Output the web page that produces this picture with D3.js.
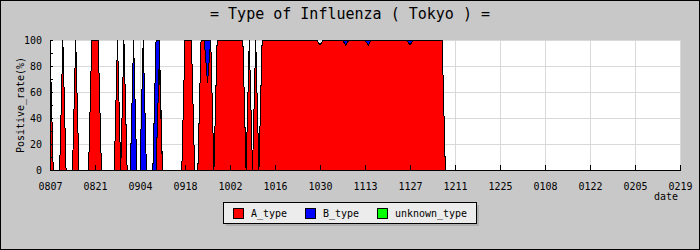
<!DOCTYPE html>
<html>
<head>
<meta charset="utf-8">
<title>Type of Influenza ( Tokyo )</title>
<script src="https://cdn.jsdelivr.net/npm/d3@7"></script>
<style>
    body { margin: 0; background: #c8c8c8; }
    svg { display: block; }
    text { font-family: "DejaVu Sans Mono", "Liberation Mono", monospace; fill: #000; }
</style>
</head>
<body>
<div id="chart"></div>
<script>
// ---- data (daily positive rate %, first day = 0807) ----
const startDay = '20090807';

const typeA = [
    100, 0, 0, 0, 100, 0, 0, 0, 100, 0, 0, 0, 0, 100,
    100, 100, 0, 0, 0, 0, 0, 100, 0, 100, 0, 0, 0, 0,
    0, 0, 0, 0, 0, 0, 85, 0, 0, 0, 0, 0, 0, 0,
    100, 100, 100, 0, 0, 100, 100, 67, 100, 0, 100, 100, 100, 100,
    100, 100, 100, 100, 100, 0, 100, 0, 100, 0, 100, 100, 100, 100,
    100, 100, 100, 100, 100, 100, 100, 100, 100, 100, 100, 100, 100, 100,
    96, 100, 100, 100, 100, 100, 100, 100, 96, 100, 100, 100, 100, 100,
    100, 96, 100, 100, 100, 100, 100, 100, 100, 100, 100, 100, 100, 100,
    96, 100, 100, 100, 100, 100, 100, 100, 100, 100, 100, 0
];

const typeB = [
    0, 0, 0, 0, 0, 0, 0, 0, 0, 0, 0, 0, 0, 0,
    0, 0, 0, 0, 0, 0, 0, 0, 0, 0, 0, 0, 100, 0,
    0, 100, 0, 0, 0, 100, 15, 0, 0, 0, 0, 0, 0, 0,
    0, 0, 0, 0, 0, 0, 0, 33, 0, 0, 0, 0, 0, 0,
    0, 0, 0, 0, 0, 0, 0, 0, 0, 0, 0, 0, 0, 0,
    0, 0, 0, 0, 0, 0, 0, 0, 0, 0, 0, 0, 0, 0,
    0, 0, 0, 0, 0, 0, 0, 0, 4, 0, 0, 0, 0, 0,
    0, 4, 0, 0, 0, 0, 0, 0, 0, 0, 0, 0, 0, 0,
    4, 0, 0, 0, 0, 0, 0, 0, 0, 0, 0, 0
];

const typeUnknown = [
    0, 0, 0, 0, 0, 0, 0, 0, 0, 0, 0, 0, 0, 0,
    0, 0, 0, 0, 0, 0, 0, 0, 0, 0, 0, 0, 0, 0,
    0, 0, 0, 0, 0, 0, 0, 0, 0, 0, 0, 0, 0, 0,
    0, 0, 0, 0, 0, 0, 0, 0, 0, 0, 0, 0, 0, 0,
    0, 0, 0, 0, 0, 0, 0, 0, 0, 0, 0, 0, 0, 0,
    0, 0, 0, 0, 0, 0, 0, 0, 0, 0, 0, 0, 0, 0,
    0, 0, 0, 0, 0, 0, 0, 0, 0, 0, 0, 0, 0, 0,
    0, 0, 0, 0, 0, 0, 0, 0, 0, 0, 0, 0, 0, 0,
    0, 0, 0, 0, 0, 0, 0, 0, 0, 0, 0, 0
];

const xTickLabels = ['0807', '0821', '0904', '0918', '1002', '1016', '1030',
    '1113', '1127', '1211', '1225', '0108', '0122', '0205', '0219'];
const yTickValues = [0, 20, 40, 60, 80, 100];

const seriesKeys = ['A_type', 'B_type', 'unknown_type'];
const seriesColors = ['#ff0000', '#0000ff', '#00ff00'];

// ---- layout ----
const WIDTH = 700;
const HEIGHT = 250;
const PLOT_LEFT = 50;
const PLOT_RIGHT = 680;
const PLOT_TOP = 40;
const PLOT_BOTTOM = 170;
const CHAR_W = 6;          // width of one char in the small bitmap-like font
const GRID_COLOR = '#d9d9d9';

const parseDay = d3.utcParse('%Y%m%d');
const start = parseDay(startDay);

// tick label "MMDD" -> date (autumn in start year, winter in next one)
function labelToDate(label) {
    let year = +label.slice(0, 2) >= 8 ? 2009 : 2010;
    return parseDay(year + label);
}

const rows = typeA.map((a, i) => ({
    date: d3.utcDay.offset(start, i),
    A_type: a,
    B_type: typeB[i],
    unknown_type: typeUnknown[i]
}));

const tickDates = xTickLabels.map(labelToDate);

const x = d3.scaleUtc()
    .domain([tickDates[0], tickDates[tickDates.length - 1]])
    .range([PLOT_LEFT, PLOT_RIGHT]);

const y = d3.scaleLinear()
    .domain([0, 100])
    .range([PLOT_BOTTOM, PLOT_TOP]);

const svg = d3.select('#chart').append('svg')
    .attr('width', WIDTH)
    .attr('height', HEIGHT);

// background + frame
svg.append('rect')
    .attr('x', 0.5).attr('y', 0.5)
    .attr('width', WIDTH - 1).attr('height', HEIGHT - 1)
    .attr('fill', '#c8c8c8')
    .attr('stroke', '#000');

// title
svg.append('text')
    .attr('x', WIDTH / 2)
    .attr('y', 19)
    .attr('text-anchor', 'middle')
    .style('font-size', '15px')
    .text('= Type of Influenza ( Tokyo ) =');

// plot area
svg.append('rect')
    .attr('x', PLOT_LEFT).attr('y', PLOT_TOP)
    .attr('width', PLOT_RIGHT - PLOT_LEFT).attr('height', PLOT_BOTTOM - PLOT_TOP)
    .attr('fill', '#fff');

// grid
const grid = svg.append('g').attr('shape-rendering', 'crispEdges');
grid.selectAll('.hgrid')
    .data(yTickValues.filter(v => v > 0))
    .join('line')
    .attr('x1', PLOT_LEFT).attr('x2', PLOT_RIGHT)
    .attr('y1', d => Math.round(y(d)) + 0.5).attr('y2', d => Math.round(y(d)) + 0.5)
    .attr('stroke', GRID_COLOR);
grid.selectAll('.vgrid')
    .data(tickDates.slice(1))
    .join('line')
    .attr('x1', d => Math.round(x(d)) + 0.5).attr('x2', d => Math.round(x(d)) + 0.5)
    .attr('y1', PLOT_TOP).attr('y2', PLOT_BOTTOM)
    .attr('stroke', GRID_COLOR);

// stacked areas
const stacked = d3.stack().keys(seriesKeys)(rows);

const area = d3.area()
    .x(d => x(d.data.date))
    .y0(d => y(d[0]))
    .y1(d => y(d[1]));

const topLine = d3.line()
    .x(d => x(d.data.date))
    .y(d => y(d[1]));

svg.append('g')
    .selectAll('path')
    .data(stacked)
    .join('path')
    .attr('fill', (d, i) => seriesColors[i])
    .attr('shape-rendering', 'crispEdges')
    .attr('d', area);

svg.append('g')
    .selectAll('path')
    .data(stacked)
    .join('path')
    .attr('fill', 'none')
    .attr('stroke', '#000')
    .attr('stroke-width', 1)
    .attr('shape-rendering', 'crispEdges')
    .attr('d', topLine);

// axes
const xAxis = d3.axisBottom(x)
    .tickValues(tickDates)
    .tickFormat((d, i) => xTickLabels[i])
    .tickSizeInner(-5)
    .tickSizeOuter(0)
    .tickPadding(12);

const yAxis = d3.axisLeft(y)
    .ticks(10)
    .tickFormat(d => (yTickValues.includes(d) ? d : ''))
    .tickSizeInner(-3)
    .tickSizeOuter(0)
    .tickPadding(8);

const gx = svg.append('g')
    .attr('transform', `translate(0,${PLOT_BOTTOM})`)
    .attr('shape-rendering', 'crispEdges')
    .call(xAxis);

const gy = svg.append('g')
    .attr('transform', `translate(${PLOT_LEFT},0)`)
    .attr('shape-rendering', 'crispEdges')
    .call(yAxis);

[gx, gy].forEach(g => {
    g.select('.domain').attr('stroke', '#000');
    g.selectAll('.tick line').attr('stroke', '#000');
    g.selectAll('.tick text')
        .attr('font-family', null)
        .style('font-size', '11px')
        .attr('lengthAdjust', 'spacingAndGlyphs')
        .attr('textLength', function () { return this.textContent.length * CHAR_W; });
});

// axis titles
svg.append('text')
    .attr('transform', 'translate(24,105) rotate(-90)')
    .attr('text-anchor', 'middle')
    .style('font-size', '11px')
    .attr('lengthAdjust', 'spacingAndGlyphs')
    .attr('textLength', 'Positive_rate(%)'.length * CHAR_W)
    .text('Positive_rate(%)');

svg.append('text')
    .attr('x', 678)
    .attr('y', 200)
    .attr('text-anchor', 'end')
    .style('font-size', '11px')
    .attr('lengthAdjust', 'spacingAndGlyphs')
    .attr('textLength', 4 * CHAR_W)
    .text('date');

// legend
const LEGEND_X = 223, LEGEND_Y = 202, LEGEND_W = 253, LEGEND_H = 21;
const legend = svg.append('g').attr('shape-rendering', 'crispEdges');
legend.append('rect')
    .attr('x', LEGEND_X + 3).attr('y', LEGEND_Y + 3)
    .attr('width', LEGEND_W).attr('height', LEGEND_H)
    .attr('fill', '#b0b0b0');
legend.append('rect')
    .attr('x', LEGEND_X + 0.5).attr('y', LEGEND_Y + 0.5)
    .attr('width', LEGEND_W).attr('height', LEGEND_H)
    .attr('fill', '#ececec')
    .attr('stroke', '#000');

let itemX = LEGEND_X + 10;
seriesKeys.forEach((key, i) => {
    legend.append('rect')
        .attr('x', itemX + 0.5).attr('y', LEGEND_Y + 6.5)
        .attr('width', 10).attr('height', 10)
        .attr('fill', seriesColors[i])
        .attr('stroke', '#000');
    legend.append('text')
        .attr('x', itemX + 18)
        .attr('y', LEGEND_Y + 15)
        .style('font-size', '11px')
        .attr('lengthAdjust', 'spacingAndGlyphs')
        .attr('textLength', key.length * CHAR_W)
        .text(key);
    itemX += 18 + key.length * CHAR_W + 18;
});
</script>
</body>
</html>
